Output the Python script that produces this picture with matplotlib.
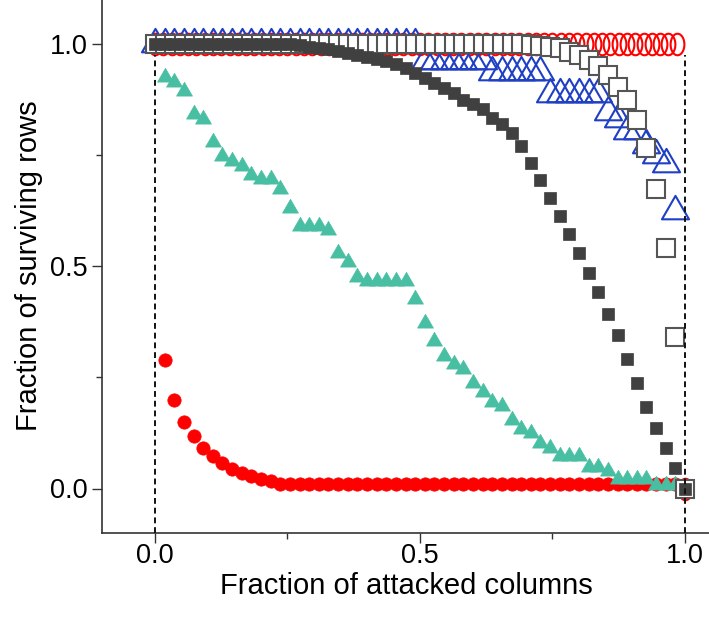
import numpy as np
import matplotlib
matplotlib.use("Agg")
import matplotlib.pyplot as plt
from matplotlib.path import Path

plt.rcParams['font.family'] = ['Liberation Sans', 'DejaVu Sans']

# ---- data ----
n_cols = 55
attacked = np.arange(0, n_cols + 1)
n_cols_open_circ = 64
attacked_open_circ = np.arange(0, n_cols_open_circ + 1)

red_open_y = [1.0] * 64 + [0.0]

red_filled_y = [1.0, 0.288, 0.200, 0.149, 0.118, 0.091, 0.073, 0.058, 0.044, 0.035,
                0.029, 0.022, 0.016] + [0.010] * 42 + [0.0]

teal_y = [1.0, 0.924, 0.914, 0.894, 0.841, 0.830, 0.778, 0.748, 0.736, 0.725,
          0.704, 0.695, 0.695, 0.673, 0.631, 0.590, 0.590, 0.590, 0.580, 0.529,
          0.508, 0.476, 0.467, 0.467, 0.467, 0.467, 0.467, 0.425, 0.373, 0.332,
          0.298, 0.280, 0.268, 0.238, 0.216, 0.195, 0.186, 0.154, 0.133, 0.124,
          0.103, 0.092, 0.072, 0.072, 0.072, 0.049, 0.049, 0.040, 0.021, 0.021,
          0.021, 0.021, 0.008, 0.008, 0.008, 0.0]

dark_sq_y = [1.0] * 14 + [0.998, 0.996, 0.993, 0.990, 0.987, 0.983, 0.979, 0.975,
             0.970, 0.965, 0.960, 0.953, 0.945, 0.934, 0.922, 0.912, 0.900, 0.889,
             0.874, 0.863, 0.852, 0.833, 0.818, 0.798, 0.769, 0.732, 0.693, 0.653,
             0.613, 0.573, 0.530, 0.485, 0.441, 0.393, 0.344, 0.290, 0.236, 0.184,
             0.136, 0.090, 0.046, 0.0]

open_sq_y = [1.0] * 39 + [0.997, 0.995, 0.992, 0.989, 0.981, 0.974, 0.962, 0.949,
             0.929, 0.903, 0.872, 0.829, 0.766, 0.673, 0.541, 0.341, 0.0]

blue_y = [1.0] * 28 + [0.96] * 7 + [0.935] * 6 + [0.887] * 6 + \
         [0.845, 0.830, 0.804, 0.804, 0.771, 0.750, 0.729, 0.624]

x_ticks = [0.0, 0.5, 1.0]
y_ticks = [0.0, 0.5, 1.0]
x_label = "Fraction of attacked columns"
y_label = "Fraction of surviving rows"

# ---- markers ----
t = np.linspace(0, 2 * np.pi, 80)
ellipse = Path(np.c_[0.64 * np.cos(t), np.sin(t)], closed=True)
h = np.sqrt(3) / 2
tri = Path([(0, 2 * h / 3), (-0.5, -h / 3), (0.5, -h / 3), (0, 2 * h / 3)], closed=True)

# ---- figure ----
W, H = 709, 624
fig = plt.figure(figsize=(W / 100, H / 100), dpi=100)
ax = fig.add_axes([102 / W, (H - 533) / H, 609.5 / W, 534 / H])
ax.set_xlim(-0.1, 1.05)
ax.set_ylim(-0.1, 1.1)

x55 = attacked / n_cols
x64 = attacked_open_circ / n_cols_open_circ

ax.plot(x64, red_open_y, ls='none', marker=ellipse, ms=15.5, mfc='none',
        mec='#ff0000', mew=1.5, zorder=2, clip_on=False)
ax.plot(x55, red_filled_y, ls='none', marker='o', ms=9.6, mfc='#ff0000',
        mec='#ff0000', mew=0.5, zorder=3, clip_on=False)
ax.plot(x55, teal_y, ls='none', marker=tri, ms=13.2, mfc='#48bfa2',
        mec='#48bfa2', mew=0.5, zorder=4, clip_on=False)
ax.plot(x55[:len(blue_y)], blue_y, ls='none', marker=tri, ms=22.5, mfc='none',
        mec='#1f3fc4', mew=1.5, zorder=5, clip_on=False)
ax.plot(x55, open_sq_y, ls='none', marker='s', ms=13.2, mfc='white',
        mec='#555555', mew=1.5, zorder=6, clip_on=False)
ax.plot(x55, dark_sq_y, ls='none', marker='s', ms=8.0, mfc='#404040',
        mec='#404040', mew=0.5, zorder=7, clip_on=False)

ax.vlines([0.0, 1.0], -0.1, 0.975, colors='#111111', linestyles=(0, (3, 2)),
          lw=1.4, zorder=8)

for s in ['top', 'right']:
    ax.spines[s].set_visible(False)
for s in ['left', 'bottom']:
    ax.spines[s].set_linewidth(1.2)
    ax.spines[s].set_color('#333333')

ax.set_xticks(x_ticks)
ax.set_yticks(y_ticks)
ax.set_xticks([0.25, 0.75], minor=True)
ax.set_yticks([0.25, 0.75], minor=True)
ax.set_xticklabels([f"{v:.1f}" for v in x_ticks])
ax.set_yticklabels([f"{v:.1f}" for v in y_ticks])
ax.tick_params(which='major', direction='out', length=7, width=1.0,
               color='#333333', labelsize=19.5)
ax.tick_params(axis='x', which='major', pad=0.5)
ax.tick_params(axis='y', which='major', pad=3)
ax.tick_params(which='minor', direction='out', length=4, width=1.0,
               color='#333333')

ax.set_xlabel(x_label, fontsize=21, labelpad=2)
ax.set_ylabel(y_label, fontsize=21, labelpad=5)

fig.savefig("out.png", dpi=100)
